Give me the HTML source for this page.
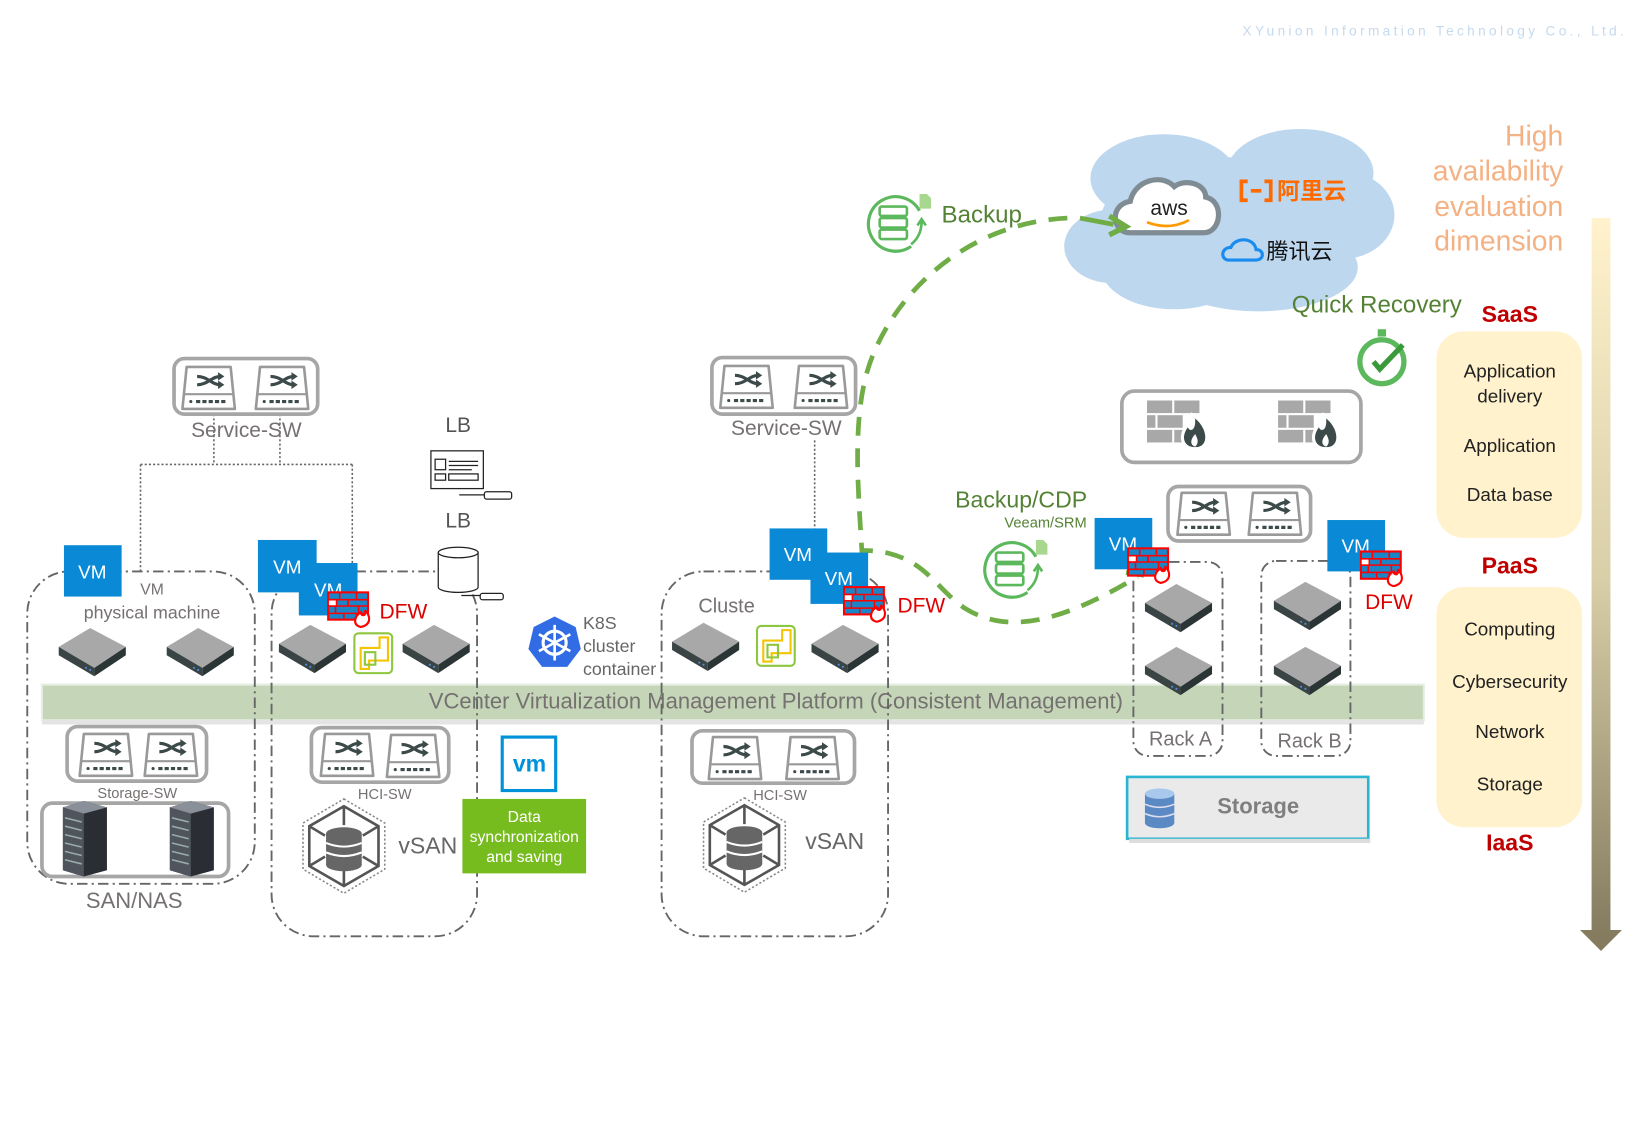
<!DOCTYPE html>
<html><head><meta charset="utf-8"><style>
html,body{margin:0;padding:0;background:#fff;width:1644px;height:1125px;overflow:hidden}
svg{display:block}
text{font-family:"Liberation Sans","Noto Sans CJK SC",sans-serif}
</style></head><body>
<svg width="1644" height="1125" viewBox="0 0 1568 1073" preserveAspectRatio="none" xmlns="http://www.w3.org/2000/svg">
<defs>
<g id="sw">
 <path d="M-22,-20 L20,-20 L24,20 L-26,20 Z" fill="#fff" stroke="#999" stroke-width="2.5" stroke-linejoin="round"/>
 <path d="M-24,6 L22,6" stroke="#999" stroke-width="2"/>
 <path d="M-12,-11 C-2,-11 2,-3 10,-3 M-12,-3 C-2,-3 2,-11 10,-11" stroke="#3d4a4a" stroke-width="3" fill="none"/>
 <path d="M8,-15 L14,-11 L8,-7 Z M8,-7 L14,-3 L8,1 Z" fill="#3d4a4a"/>
 <circle cx="-18" cy="13" r="1.5" fill="#3d4a4a"/>
 <path d="M-13,13 H16" stroke="#3d4a4a" stroke-width="3" stroke-dasharray="4 2"/>
</g>
<g id="srv">
 <path d="M-32,-8 L-2,-26 L32,-8 L2,12 Z" fill="#a8a8a8"/>
 <path d="M-32,-8 L2,12 L2,20 L-32,0 Z" fill="#3a4445"/>
 <path d="M2,12 L32,-8 L32,0 L2,20 Z" fill="#2c3536"/>
 <circle cx="-6" cy="12" r="1" fill="#4a90e2"/><circle cx="-2" cy="14" r="1" fill="#4a90e2"/>
</g>
<g id="fwr">
 <rect x="-19" y="-13" width="38" height="26" fill="#1a86c8" stroke="#f00" stroke-width="2"/>
 <path d="M-19,-6 H19 M-19,0 H19 M-19,7 H19 M-8,-13 V-6 M8,-13 V-6 M0,-6 V0 M-12,0 V7 M10,0 V7 M-4,7 V13 M8,7 V13" stroke="#f00" stroke-width="1.5"/>
 <rect x="-19" y="-6" width="8" height="6" fill="#fff" stroke="#f00" stroke-width="1.5"/>
 <path d="M12,20 C4,18 6,10 12,6 C12,10 18,10 16,4 C22,10 22,18 12,20 Z" fill="#fff" stroke="#f00" stroke-width="2"/>
</g>
<g id="fwg">
 <g fill="#a8a8a8"><rect x="-30" y="-24" width="24" height="12"/><rect x="-4" y="-24" width="24" height="12"/><rect x="-30" y="-10" width="8" height="12"/><rect x="-20" y="-10" width="24" height="12"/><rect x="-30" y="4" width="24" height="12"/><rect x="-4" y="4" width="14" height="12"/></g>
 <path d="M16,22 C2,22 0,8 10,-2 C10,6 16,4 14,-10 C30,0 32,22 16,22 Z" fill="#3d4a4a" stroke="#fff" stroke-width="3"/>
 <path d="M16,20 C10,18 12,12 16,8 C18,12 20,16 16,20Z" fill="#fff"/>
</g>
<g id="vsph">
 <rect x="-18" y="-20" width="36" height="38" rx="4" fill="#fff" stroke="#8dc63f" stroke-width="2"/>
 <path d="M-12,14 V-6 H6 V-16 H14 V6 H-4 V14 Z" fill="none" stroke="#f5c400" stroke-width="2"/>
 <path d="M-8,10 V-2 H2 V10 Z" fill="none" stroke="#8dc63f" stroke-width="2"/>
</g>
<g id="vsan">
 <path d="M0,-45 L39,-22 L39,22 L0,45 L-39,22 L-39,-22 Z" fill="#fff" stroke="#888" stroke-width="1.5" stroke-dasharray="2 2"/>
 <path d="M0,-38 L33,-19 L33,19 L0,38 L-33,19 L-33,-19 Z M0,-38 V-20 M33,-19 L18,-10 M33,19 L18,10 M0,38 V20 M-33,19 L-18,10 M-33,-19 L-18,-10" fill="none" stroke="#555" stroke-width="2.5"/>
 <ellipse cx="0" cy="-12" rx="17" ry="6" fill="#666"/>
 <rect x="-17" y="-12" width="34" height="30" fill="#666"/>
 <ellipse cx="0" cy="18" rx="17" ry="6" fill="#666"/>
 <path d="M-17,-3 Q0,4 17,-3 M-17,6 Q0,13 17,6" stroke="#fff" stroke-width="2" fill="none"/>
</g>
<g id="tower">
 <path d="M-20,-30 L0,-36 L22,-30 L22,30 L0,36 L-20,30 Z" fill="#2a2d33"/>
 <path d="M-20,-30 L0,-24 L0,36 L-20,30 Z" fill="#50555d"/>
 <path d="M-18,-20 L-2,-16 M-18,-12 L-2,-8 M-18,-4 L-2,0 M-18,4 L-2,8 M-18,12 L-2,16 M-18,20 L-2,24" stroke="#9aa" stroke-width="1.5"/>
 <path d="M-20,-30 L0,-36 L22,-30 L0,-24 Z" fill="#8a9099"/>
</g>
<g id="bkp">
 <path d="M22,-12 A26,26 0 1 0 14,22" fill="none" stroke="#5cb85c" stroke-width="3"/>
 <g fill="#fff" stroke="#5cb85c" stroke-width="2.5"><rect x="-16" y="-16" width="26" height="9" rx="2"/><rect x="-16" y="-5" width="26" height="9" rx="2"/><rect x="-16" y="6" width="26" height="9" rx="2"/></g>
 <path d="M14,20 Q24,12 24,-2 M20,2 L24,-4 L28,2" fill="none" stroke="#5cb85c" stroke-width="2.5"/>
 <path d="M22,-28 h7 l4,4 v10 h-11 Z" fill="#a8d890"/>
</g>
</defs>

<text x="1552" y="34" text-anchor="end" font-size="13" fill="#c5d9ee" letter-spacing="3.2">XYunion Information Technology Co., Ltd.</text>

<g fill="#bdd7ee">
 <ellipse cx="1110" cy="170" rx="70" ry="42"/><ellipse cx="1240" cy="165" rx="70" ry="42"/>
 <ellipse cx="1280" cy="205" rx="50" ry="42"/><ellipse cx="1060" cy="235" rx="45" ry="35"/>
 <ellipse cx="1200" cy="255" rx="95" ry="42"/><ellipse cx="1120" cy="255" rx="70" ry="40"/>
 <ellipse cx="1170" cy="210" rx="120" ry="60"/><ellipse cx="1230" cy="240" rx="55" ry="35"/>
</g>
<path d="M1078,222 C1060,222 1058,195 1078,192 C1082,172 1108,165 1120,178 C1130,170 1150,175 1150,188 C1168,192 1165,222 1148,222 Z" fill="#fff" stroke="#7f8c94" stroke-width="5"/>
<text x="1115" y="205" text-anchor="middle" font-size="20" fill="#222">aws</text>
<path d="M1094,212 Q1115,220 1134,210" stroke="#f90" stroke-width="2.5" fill="none"/>
<path d="M1190,173 h-6 v18 h6 M1206,173 h6 v18 h-6 M1193,182 h10" stroke="#ff6a00" stroke-width="3.5" fill="none"/>
<text x="1218" y="190" font-size="22" fill="#ff6a00" font-weight="bold">阿里云</text>
<path d="M1172,248 C1164,248 1164,236 1174,236 C1178,226 1196,226 1198,238 C1206,238 1206,248 1198,248 Z" fill="none" stroke="#1a8cf0" stroke-width="3"/>
<text x="1208" y="247" font-size="21" fill="#111">腾讯云</text>

<g font-size="27" fill="#f4b183" text-anchor="end">
<text x="1491" y="139">High</text><text x="1491" y="172">availability</text><text x="1491" y="206">evaluation</text><text x="1491" y="239">dimension</text></g>
<defs><linearGradient id="gb" x1="0" y1="0" x2="0" y2="1"><stop offset="0" stop-color="#fff2cc"/><stop offset="0.5" stop-color="#d9cfa8"/><stop offset="1" stop-color="#857c60"/></linearGradient></defs>
<rect x="1518" y="208" width="18" height="682" fill="url(#gb)"/>
<path d="M1507,887 L1547,887 L1527,907 Z" fill="#857c60"/>

<g font-weight="bold" fill="#c00000" font-size="22" text-anchor="middle">
<text x="1440" y="307">SaaS</text><text x="1440" y="547">PaaS</text><text x="1440" y="811">IaaS</text></g>
<rect x="1370" y="316" width="139" height="197" rx="26" fill="#fff2cc"/>
<rect x="1370" y="560" width="139" height="229" rx="26" fill="#fff2cc"/>
<g font-size="18" fill="#222" text-anchor="middle">
<text x="1440" y="360">Application</text><text x="1440" y="384">delivery</text><text x="1440" y="431">Application</text><text x="1440" y="478">Data base</text>
<text x="1440" y="606">Computing</text><text x="1440" y="656">Cybersecurity</text><text x="1440" y="704">Network</text><text x="1440" y="754">Storage</text></g>

<text x="1232" y="298" font-size="23" fill="#548235">Quick Recovery</text>
<g transform="translate(1318,345)">
 <circle r="21" fill="#fff" stroke="#5cb85c" stroke-width="5"/><rect x="-4" y="-31" width="8" height="7" fill="#5cb85c"/>
 <path d="M-8,0 L-2,7 L20,-16" stroke="#3a9a3a" stroke-width="5" fill="none"/></g>

<use href="#bkp" x="855" y="213"/>
<text x="898" y="212" font-size="23" fill="#548235">Backup</text>
<text x="911" y="484" font-size="22" fill="#548235">Backup/CDP</text>
<text x="958" y="503" font-size="14" fill="#548235">Veeam/SRM</text>
<use href="#bkp" x="966" y="543"/>
<path d="M1018,208 C930,212 860,270 832,340 C812,390 818,460 822,525 C880,525 890,560 920,580 C960,605 1010,595 1085,550" fill="none" stroke="#70ad47" stroke-width="4.5" stroke-dasharray="18 12"/>
<path d="M1030,208 L1062,214" stroke="#70ad47" stroke-width="4.5"/>
<path d="M1058,206 L1074,216 L1058,224" fill="none" stroke="#70ad47" stroke-width="5"/>
<path d="M1074,546 L1088,548 L1086,534" fill="none" stroke="#70ad47" stroke-width="5"/>

<rect x="40" y="653" width="1318" height="34" fill="#c5d5b8" stroke="#e6ede0" stroke-width="2"/>
<rect x="40" y="687" width="1318" height="4" fill="#e4e4e4"/>
<text x="740" y="676" text-anchor="middle" font-size="21" fill="#767171">VCenter Virtualization  Management  Platform  (Consistent Management)</text>

<g fill="none" stroke="#666" stroke-width="1.8" stroke-dasharray="10 4 2 4">
<rect x="26" y="545" width="217" height="298" rx="40"/>
<rect x="259" y="545" width="196" height="348" rx="40"/>
<rect x="631" y="545" width="216" height="348" rx="40"/>
<rect x="1081" y="536" width="85" height="185" rx="14"/>
<rect x="1203" y="535" width="85" height="186" rx="14"/>
</g>
<g fill="none" stroke="#666" stroke-width="1.5" stroke-dasharray="2 2">
<path d="M204,395 V443 M267,395 V443 M134,443 H336 M134,443 V545 M336,443 V545 M777,420 V505"/></g>

<g fill="#fff" stroke="#a6a6a6" stroke-width="3.5">
<rect x="166" y="342" width="137" height="53" rx="10"/>
<rect x="679" y="341" width="137" height="54" rx="10"/>
<rect x="64" y="693" width="133" height="52" rx="10"/>
<rect x="297" y="694" width="131" height="52" rx="10"/>
<rect x="660" y="697" width="155" height="50" rx="10"/>
<rect x="1114" y="464" width="136" height="52" rx="10"/>
<rect x="1070" y="373" width="228" height="68" rx="12"/>
<rect x="40" y="766" width="178" height="70" rx="10"/>
</g>
<use href="#sw" x="200" y="370"/><use href="#sw" x="270" y="370"/>
<use href="#sw" x="713" y="369"/><use href="#sw" x="784" y="369"/>
<use href="#sw" x="102" y="720"/><use href="#sw" x="164" y="720"/>
<use href="#sw" x="332" y="720"/><use href="#sw" x="395" y="721"/>
<use href="#sw" x="702" y="723"/><use href="#sw" x="776" y="723"/>
<use href="#sw" x="1149" y="490"/><use href="#sw" x="1217" y="490"/>
<use href="#fwg" x="1124" y="406"/><use href="#fwg" x="1249" y="406"/>

<g font-size="20" fill="#767171" text-anchor="middle">
<text x="235" y="417">Service-SW</text><text x="750" y="415">Service-SW</text>
<text x="128" y="866" font-size="21">SAN/NAS</text>
<text x="1126" y="711" font-size="19">Rack A</text><text x="1249" y="713" font-size="19">Rack B</text>
<text x="693" y="584" font-size="19">Cluste</text></g>
<g font-size="14" fill="#767171" text-anchor="middle">
<text x="131" y="761">Storage-SW</text><text x="367" y="762">HCI-SW</text><text x="744" y="763">HCI-SW</text></g>
<text x="145" y="567" font-size="15" fill="#767171" text-anchor="middle">VM</text>
<text x="145" y="590" font-size="17" fill="#767171" text-anchor="middle">physical machine</text>

<use href="#srv" x="88" y="625"/><use href="#srv" x="191" y="625"/>
<use href="#srv" x="298" y="622"/><use href="#srv" x="416" y="622"/>
<use href="#srv" x="673" y="620"/><use href="#srv" x="806" y="622"/>
<use href="#srv" x="1124" y="583"/><use href="#srv" x="1124" y="643"/>
<use href="#srv" x="1247" y="581"/><use href="#srv" x="1247" y="643"/>
<use href="#tower" x="80" y="800"/><use href="#tower" x="182" y="800"/>
<use href="#vsph" x="356" y="624"/><use href="#vsph" x="740" y="617"/>
<use href="#vsan" x="328" y="807"/><use href="#vsan" x="710" y="806"/>
<text x="380" y="814" font-size="22" fill="#666">vSAN</text>
<text x="768" y="810" font-size="22" fill="#666">vSAN</text>

<g fill="#0a8ad6">
<rect x="61" y="520" width="55" height="49"/><rect x="246" y="515" width="56" height="50"/><rect x="285" y="537" width="56" height="50"/>
<rect x="734" y="504" width="55" height="49"/><rect x="773" y="527" width="55" height="49"/>
<rect x="1044" y="494" width="55" height="49"/><rect x="1266" y="496" width="55" height="49"/></g>
<g font-size="18" fill="#fff" text-anchor="middle">
<text x="88" y="552">VM</text><text x="274" y="547">VM</text><text x="313" y="569">VM</text>
<text x="761" y="535">VM</text><text x="800" y="558">VM</text><text x="1071" y="525">VM</text><text x="1293" y="527">VM</text></g>
<use href="#fwr" x="332" y="578"/><use href="#fwr" x="824" y="573"/><use href="#fwr" x="1095" y="536"/><use href="#fwr" x="1317" y="539"/>
<g font-size="20" fill="#d00"><text x="362" y="590">DFW</text><text x="856" y="584">DFW</text><text x="1302" y="581">DFW</text></g>

<text x="437" y="412" text-anchor="middle" font-size="20" fill="#555">LB</text>
<text x="437" y="503" text-anchor="middle" font-size="20" fill="#555">LB</text>
<g fill="#fff" stroke="#222" stroke-width="1.2">
<rect x="411" y="430" width="50" height="36"/><rect x="415" y="438" width="10" height="10"/><path d="M428,440 H456 M428,444 H456 M428,448 H450"/><rect x="415" y="452" width="10" height="6"/><rect x="428" y="452" width="28" height="6"/>
<path d="M438,472 H462"/><rect x="462" y="469" width="26" height="7" rx="2"/>
<path d="M418,527 V560 A19,5 0 0 0 456,560 V527"/><ellipse cx="437" cy="527" rx="19" ry="5"/>
<path d="M440,568 H458"/><rect x="458" y="566" width="22" height="6" rx="2"/></g>

<g transform="translate(529,613)"><path d="M0,-25 L20,-15 L25,6 L12,23 L-12,23 L-25,6 L-20,-15 Z" fill="#326ce5"/>
<circle r="11" fill="none" stroke="#fff" stroke-width="3"/><path d="M0,-17 V17 M-15,-8 L15,8 M-15,8 L15,-8" stroke="#fff" stroke-width="2.5"/></g>
<g font-size="17" fill="#666"><text x="556" y="600">K8S</text><text x="556" y="622">cluster</text><text x="556" y="644">container</text></g>

<rect x="479" y="703" width="51" height="51" fill="#fff" stroke="#0091da" stroke-width="3"/>
<text x="505" y="736" text-anchor="middle" font-size="22" fill="#0091da" font-weight="bold">vm</text>
<rect x="441" y="762" width="118" height="71" fill="#77bc1f"/>
<g font-size="15" fill="#fff" text-anchor="middle"><text x="500" y="784">Data</text><text x="500" y="803">synchronization</text><text x="500" y="822">and saving</text></g>

<rect x="1075" y="741" width="230" height="59" fill="#eaeaea" stroke="#2ab5d0" stroke-width="2.5"/>
<rect x="1077" y="800" width="230" height="4" fill="#ddd"/>
<g transform="translate(1106,771)"><rect x="-14" y="-14" width="28" height="28" fill="#5b89c4"/><ellipse cy="-14" rx="14" ry="5" fill="#a9c8ee"/><ellipse cy="14" rx="14" ry="5" fill="#5b89c4"/><path d="M-14,-4 Q0,2 14,-4 M-14,5 Q0,11 14,5" stroke="#dde" stroke-width="1.5" fill="none"/></g>
<text x="1200" y="776" text-anchor="middle" font-size="21" font-weight="bold" fill="#7f7f7f">Storage</text>
</svg>
</body></html>
